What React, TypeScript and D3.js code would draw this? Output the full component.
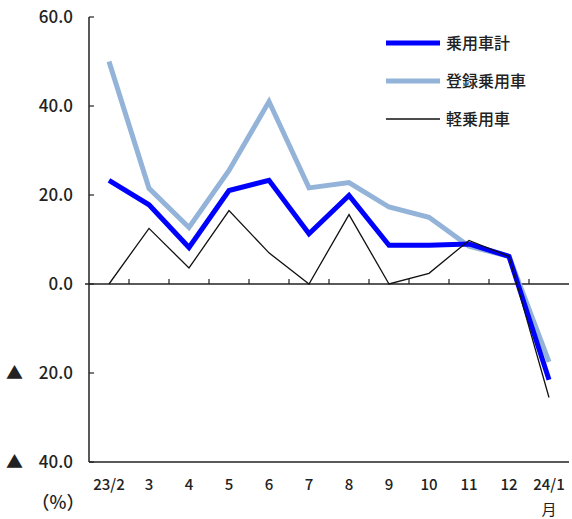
import React from "react";
import * as d3 from "d3";

const categories = ["23/2","3","4","5","6","7","8","9","10","11","12","24/1"];
const total = [23.3,17.8,8.2,21.0,23.3,11.3,19.9,8.7,8.7,9.0,6.2,-21.5];
const registered = [50.0,21.5,12.7,25.5,41.0,21.6,22.8,17.3,15.0,8.5,6.2,-17.5];
const kei = [0,12.5,3.6,16.5,7.0,0,15.6,0,2.4,9.8,6.2,-25.5];
const yTicks = [60,40,20,0,-20,-40];
const seriesNames = ["乗用車計","登録乗用車","軽乗用車"];

export default function App() {
  const W = 572, H = 519;
  const x0 = 89, x1 = 569;
  const y = d3.scaleLinear().domain([-40, 60]).range([462, 17]);
  const x = d3.scaleBand().domain(categories).range([x0, x1]);
  const cx = (c: string) => (x(c) as number) + x.bandwidth() / 2;
  const line = (vals: number[]) => d3.line<number>().x((_, i) => cx(categories[i])).y(v => y(v))(vals) as string;
  const font = "'Noto Sans CJK JP', 'DejaVu Sans', sans-serif";
  const series = [
    { vals: registered, color: "#94b3d9", w: 5 },
    { vals: total, color: "#0000ff", w: 5 },
    { vals: kei, color: "#111", w: 1.3 },
  ];
  const legend = [
    { name: seriesNames[0], color: "#0000ff", w: 5 },
    { name: seriesNames[1], color: "#94b3d9", w: 5 },
    { name: seriesNames[2], color: "#111", w: 1.3 },
  ];
  return (
    <svg width={W} height={H} style={{ position: "absolute", left: 0, top: 0 }} fontFamily={font}>
      <line x1={x0} x2={x0} y1={y(60)} y2={y(-40)} stroke="#222" strokeWidth={1.5} />
      <line x1={x0} x2={x1} y1={y(-40)} y2={y(-40)} stroke="#222" strokeWidth={1.5} />
      <line x1={x0 - 4} x2={x1} y1={y(0)} y2={y(0)} stroke="#222" strokeWidth={1.5} />
      {categories.slice(1).map(c => (
        <line key={c} x1={x(c)} x2={x(c)} y1={y(0)} y2={y(0) - 5} stroke="#222" strokeWidth={1.2} />
      ))}
      {yTicks.map(t => (
        <g key={t}>
          <line x1={x0} x2={x0 + 5} y1={y(t)} y2={y(t)} stroke="#222" strokeWidth={1.2} />
          <text x={73} y={y(t) + 6} textAnchor="end" fontSize={17} fontWeight={500} fill="#222">
            {Math.abs(t).toFixed(1)}
          </text>
          {t < 0 && <text x={6} y={y(t) + 6} fontSize={17} fill="#222">▲</text>}
        </g>
      ))}
      {series.map((s, i) => (
        <path key={i} d={line(s.vals)} fill="none" stroke={s.color} strokeWidth={s.w} strokeLinejoin="miter" />
      ))}
      {categories.map(c => (
        <text key={c} x={cx(c)} y={490} textAnchor="middle" fontSize={15} fontWeight={500} fill="#222">{c}</text>
      ))}
      <text x={cx("24/1")} y={515} textAnchor="middle" fontSize={15} fill="#222">月</text>
      <text x={58} y={509} textAnchor="middle" fontSize={18} fontWeight={500} fill="#222">（%）</text>
      {legend.map((l, i) => (
        <g key={l.name}>
          <line x1={386} x2={440} y1={43 + i * 38} y2={43 + i * 38} stroke={l.color} strokeWidth={l.w} />
          <text x={446} y={49 + i * 38} fontSize={16} fontWeight={500} fill="#222">{l.name}</text>
        </g>
      ))}
    </svg>
  );
}
